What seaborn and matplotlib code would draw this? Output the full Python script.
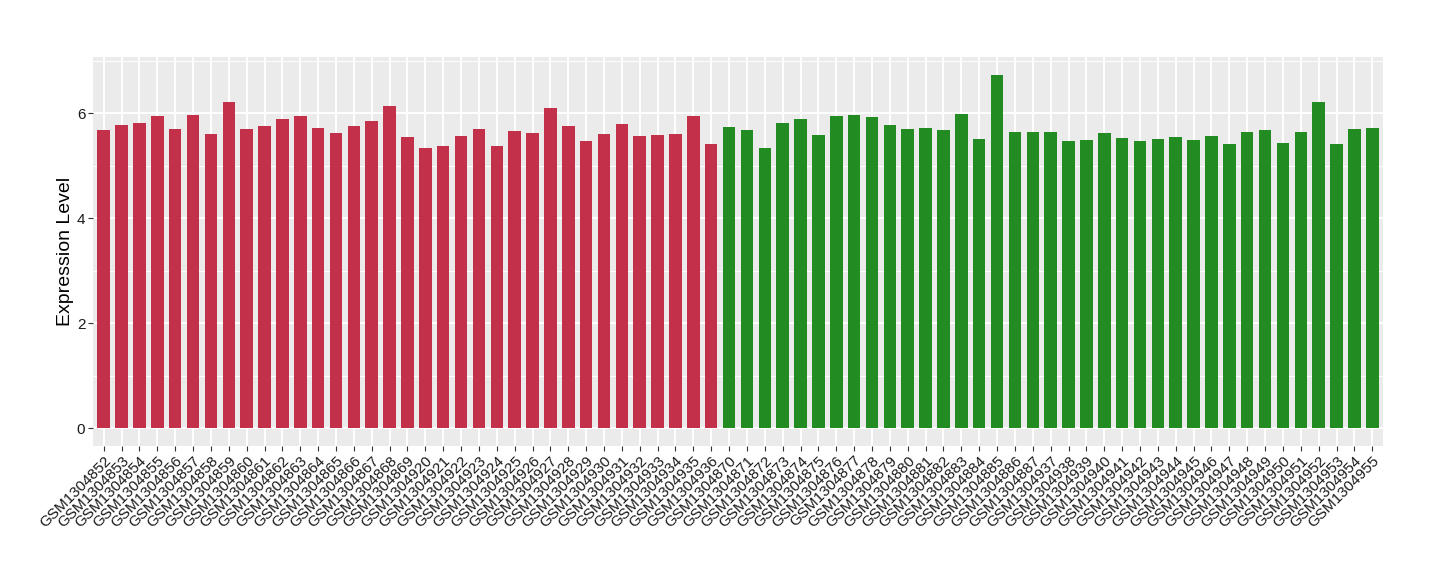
import matplotlib
matplotlib.use("Agg")
import matplotlib.pyplot as plt
from matplotlib.ticker import MultipleLocator
import seaborn as sns
import pandas as pd

red_samples = ["GSM1304852", "GSM1304853", "GSM1304854", "GSM1304855", "GSM1304856",
               "GSM1304857", "GSM1304858", "GSM1304859", "GSM1304860", "GSM1304861",
               "GSM1304862", "GSM1304863", "GSM1304864", "GSM1304865", "GSM1304866",
               "GSM1304867", "GSM1304868", "GSM1304869", "GSM1304920", "GSM1304921",
               "GSM1304922", "GSM1304923", "GSM1304924", "GSM1304925", "GSM1304926",
               "GSM1304927", "GSM1304928", "GSM1304929", "GSM1304930", "GSM1304931",
               "GSM1304932", "GSM1304933", "GSM1304934", "GSM1304935", "GSM1304936"]
red_values = [5.68, 5.78, 5.82, 5.95, 5.70, 5.97, 5.61, 6.22, 5.70, 5.76,
              5.89, 5.95, 5.72, 5.63, 5.76, 5.85, 6.14, 5.55, 5.34, 5.38,
              5.57, 5.70, 5.38, 5.66, 5.63, 6.10, 5.76, 5.46, 5.61, 5.80,
              5.57, 5.59, 5.61, 5.95, 5.42]

green_samples = ["GSM1304870", "GSM1304871", "GSM1304872", "GSM1304873", "GSM1304874",
                 "GSM1304875", "GSM1304876", "GSM1304877", "GSM1304878", "GSM1304879",
                 "GSM1304880", "GSM1304881", "GSM1304882", "GSM1304883", "GSM1304884",
                 "GSM1304885", "GSM1304886", "GSM1304887", "GSM1304937", "GSM1304938",
                 "GSM1304939", "GSM1304940", "GSM1304941", "GSM1304942", "GSM1304943",
                 "GSM1304944", "GSM1304945", "GSM1304946", "GSM1304947", "GSM1304948",
                 "GSM1304949", "GSM1304950", "GSM1304951", "GSM1304952", "GSM1304953",
                 "GSM1304954", "GSM1304955"]
green_values = [5.74, 5.68, 5.34, 5.82, 5.89, 5.59, 5.95, 5.97, 5.93, 5.78,
                5.70, 5.72, 5.68, 5.99, 5.51, 6.73, 5.65, 5.65, 5.65, 5.47,
                5.49, 5.63, 5.53, 5.46, 5.51, 5.55, 5.49, 5.57, 5.42, 5.65,
                5.68, 5.44, 5.65, 6.22, 5.42, 5.70, 5.72]

group_colors = {"red": "#C23149", "green": "#228B22"}

df = pd.DataFrame({
    "sample": red_samples + green_samples,
    "value": red_values + green_values,
    "group": ["red"] * len(red_samples) + ["green"] * len(green_samples),
})

sns.set_theme(style="darkgrid", rc={
    "axes.facecolor": "#EBEBEB",
    "grid.color": "white",
    "axes.edgecolor": "none",
})
plt.rcParams["font.family"] = ["Liberation Sans", "DejaVu Sans"]

fig = plt.figure(figsize=(14.4, 5.8), dpi=100)
ax = fig.add_axes([93 / 1440, (580 - 445.7) / 580, (1383 - 93) / 1440, (445.7 - 57) / 580])

sns.barplot(data=df, x="sample", y="value", hue="group", palette=group_colors,
            dodge=False, width=0.7, legend=False, ax=ax, saturation=1,
            linewidth=0, edgecolor="none")

n = len(df)
ax.set_xlim(-0.6, n - 1 + 0.6)
ax.set_ylim(-0.3365, 7.07)
ax.yaxis.set_major_locator(MultipleLocator(2))
ax.yaxis.set_minor_locator(MultipleLocator(1))
ax.grid(which="major", axis="both", color="white", linewidth=1.4)
ax.grid(which="minor", axis="y", color="white", linewidth=0.7)
ax.set_axisbelow(True)
for s in ax.spines.values():
    s.set_visible(False)

ax.tick_params(axis="both", which="major", length=3.5, width=0.8, color="#333333",
               labelsize=11, labelcolor="#1a1a1a", pad=2, bottom=True, left=True)
ax.tick_params(axis="y", which="minor", length=0)
plt.setp(ax.get_xticklabels(), rotation=45, ha="right", va="top", rotation_mode="anchor")

ax.set_xlabel("")
ax.set_ylabel("Expression Level", fontsize=14, color="black", labelpad=2)

fig.savefig("out.png", dpi=100)
